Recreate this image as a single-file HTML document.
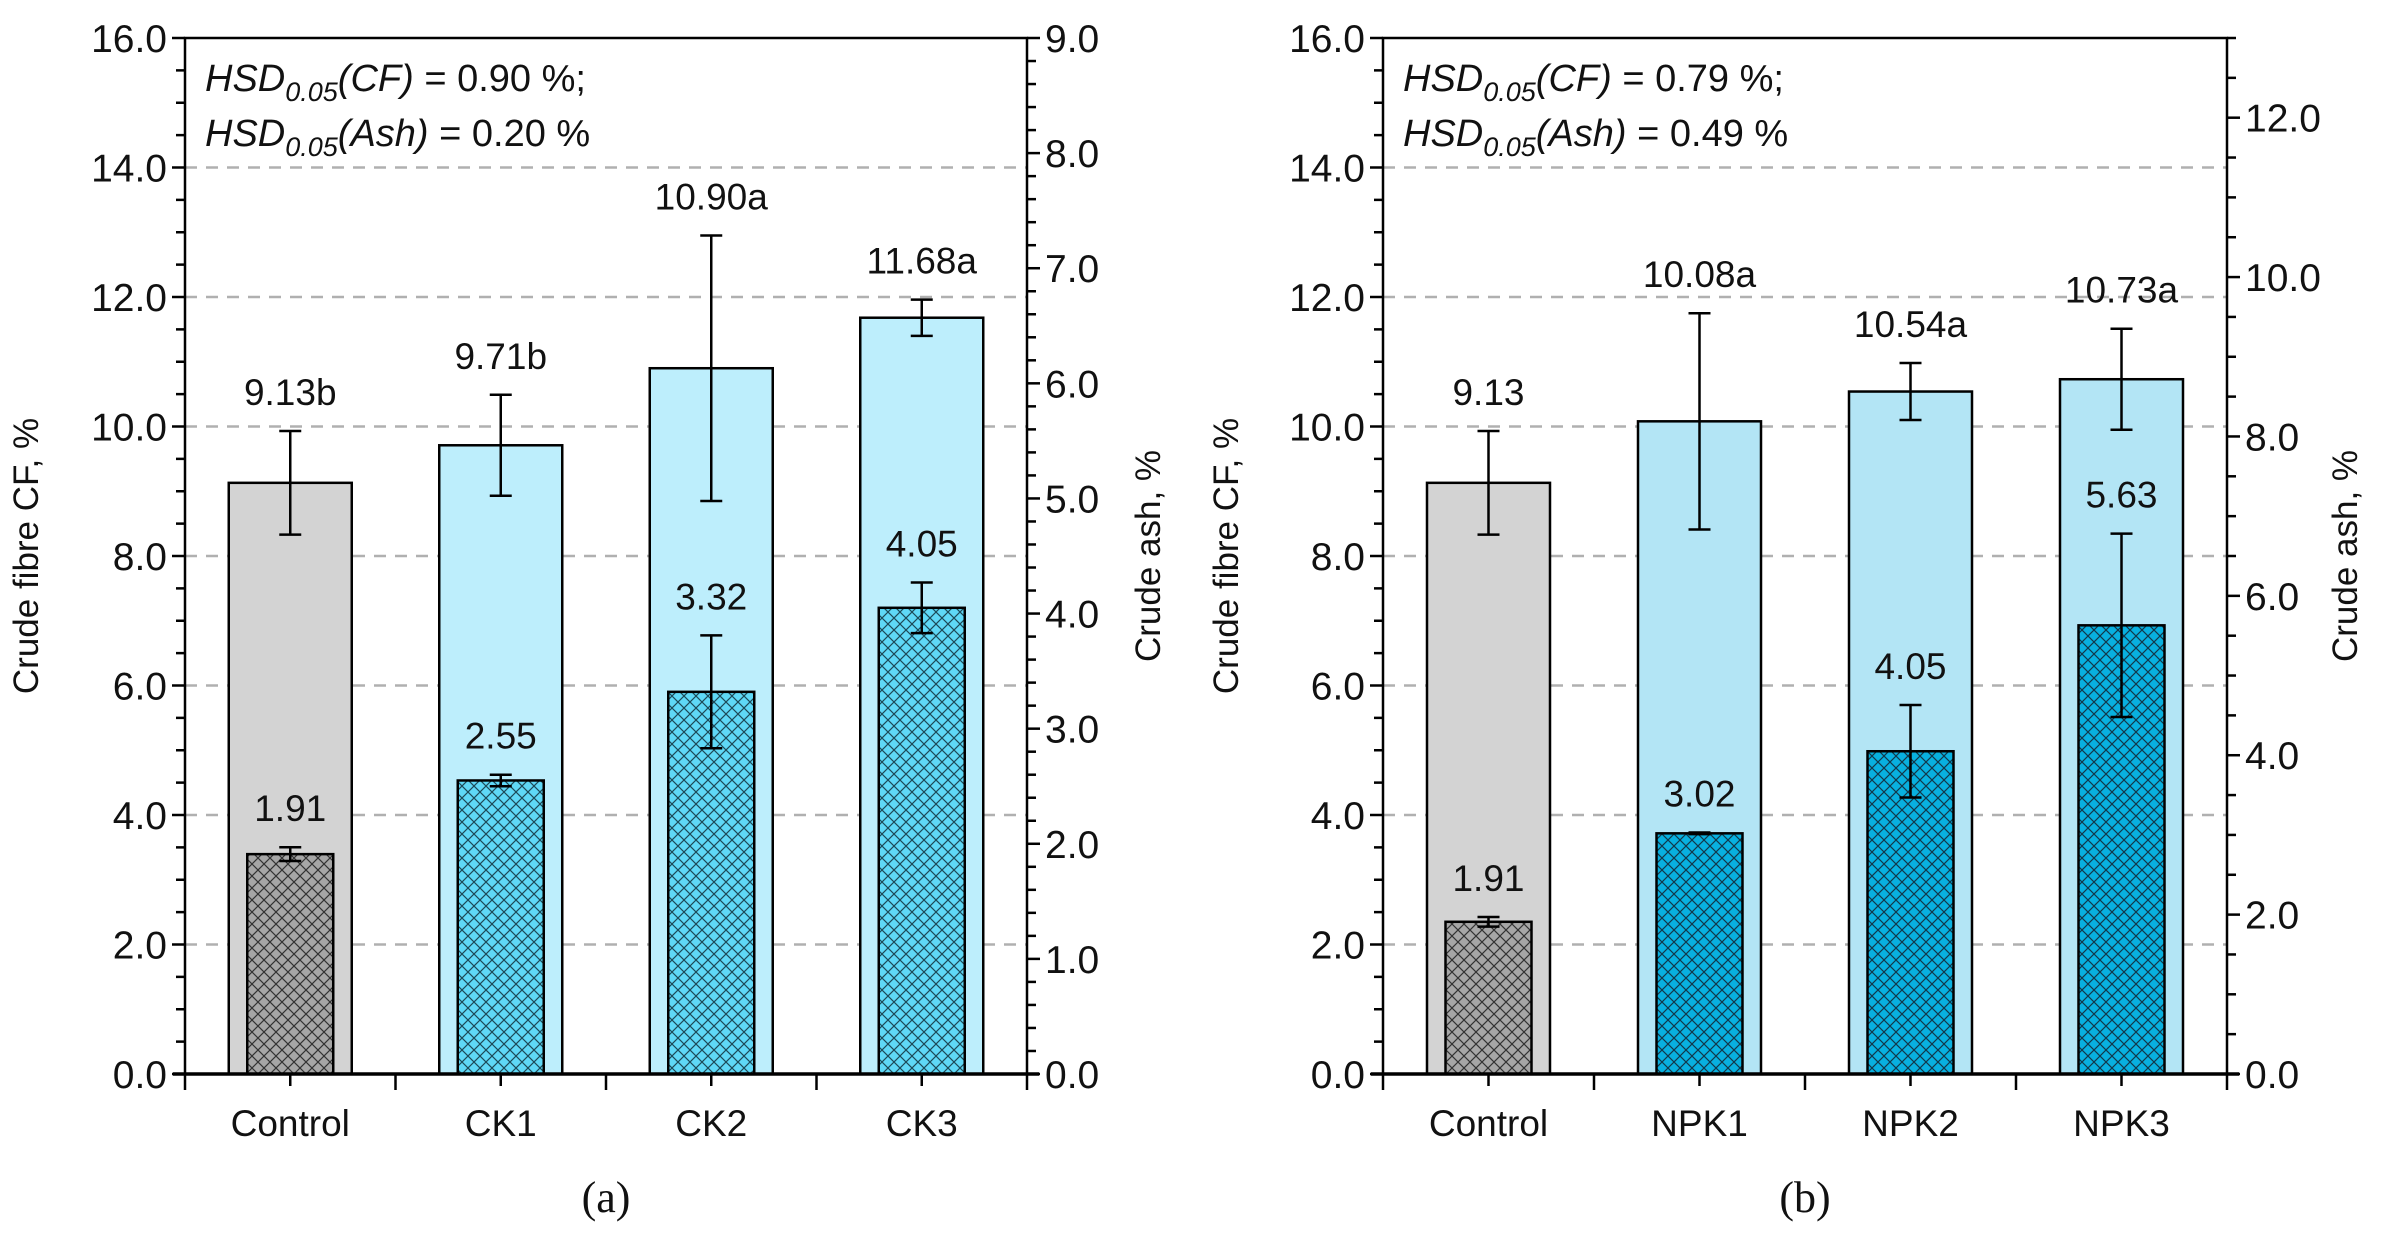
<!DOCTYPE html>
<html><head><meta charset="utf-8">
<style>
html,body{margin:0;padding:0;background:#fff;}
svg{display:block;font-family:"Liberation Sans",Arial,sans-serif;}
</style></head>
<body>
<svg id="fig" width="2390" height="1236" viewBox="0 0 2390 1236" xmlns="http://www.w3.org/2000/svg">
<defs>
<pattern id="hatchGray" patternUnits="userSpaceOnUse" width="12" height="12">
<rect width="12" height="12" fill="#a6a6a6"/>
<path d="M0,0L12,12M12,0L0,12" stroke="#333" stroke-width="1.2"/>
</pattern>
<pattern id="hatchCyan" patternUnits="userSpaceOnUse" width="12" height="12">
<rect width="12" height="12" fill="#5fd8f6"/>
<path d="M0,0L12,12M12,0L0,12" stroke="#1d4a58" stroke-width="1.2"/>
</pattern>
<pattern id="hatchBlue" patternUnits="userSpaceOnUse" width="12" height="12">
<rect width="12" height="12" fill="#08b0df"/>
<path d="M0,0L12,12M12,0L0,12" stroke="#12384a" stroke-width="1.2"/>
</pattern>
</defs>
<g id="root"></g>
</svg>
<script>
// ---- data: panel (a) ----
const catsA = ["Control","CK1","CK2","CK3"];
const cfA = [9.13, 9.71, 10.90, 11.68];
const cfErrA = [0.80, 0.78, 2.05, 0.28];
const cfLabA = ["9.13b","9.71b","10.90a","11.68a"];
const ashA = [1.91, 2.55, 3.32, 4.05];
const ashErrA = [0.06, 0.05, 0.49, 0.22];
const ashLabA = ["1.91","2.55","3.32","4.05"];
const rightTicksA = ["0.0","1.0","2.0","3.0","4.0","5.0","6.0","7.0","8.0","9.0"];
// ---- data: panel (b) ----
const catsB = ["Control","NPK1","NPK2","NPK3"];
const cfB = [9.13, 10.08, 10.54, 10.73];
const cfErrB = [0.80, 1.67, 0.44, 0.78];
const cfLabB = ["9.13","10.08a","10.54a","10.73a"];
const ashB = [1.91, 3.02, 4.05, 5.63];
const ashErrB = [0.06, 0.01, 0.58, 1.15];
const ashLabB = ["1.91","3.02","4.05","5.63"];
const rightTicksB = ["0.0","2.0","4.0","6.0","8.0","10.0","12.0"];
const leftTicks = ["0.0","2.0","4.0","6.0","8.0","10.0","12.0","14.0","16.0"];

const NS="http://www.w3.org/2000/svg";
const root=document.getElementById('root');
function mk(tag,attrs,parent,text){const e=document.createElementNS(NS,tag);for(const k in attrs)e.setAttribute(k,attrs[k]);if(text!==undefined)e.textContent=text;(parent||root).appendChild(e);return e;}

function panel(o){
  const g=mk('g',{});
  
  
  const L=o.x0,R=o.x1,T=38,B=1074;
  const yL=v=>B-(v/16)*(B-T);
  const yR=v=>B-(v/o.rmax)*(B-T);
  const cw=(R-L)/4;
  const cx=i=>L+cw*(i+0.5);
  for(let v=2;v<=14;v+=2){
    const l=mk('line',{x1:L,x2:R,y1:yL(v),y2:yL(v),stroke:'#b0b0b0','stroke-width':2.5,'stroke-dasharray':'12 9'},g);
    
    
  }
  for(let i=0;i<4;i++){
    const c=cx(i);
    const ow=123, iw=86;
    const ob=mk('rect',{x:c-ow/2,y:yL(o.cf[i]),width:ow,height:B-yL(o.cf[i]),fill:i==0?'#d3d3d3':o.outer,stroke:'#000','stroke-width':2.5},g);
    
    
    const ib=mk('rect',{x:c-iw/2,y:yR(o.ash[i]),width:iw,height:B-yR(o.ash[i]),fill:i==0?'url(#hatchGray)':o.inner,stroke:'#000','stroke-width':2.5},g);
    
    
    const eb=(y1,y2,nm)=>{
      const eg=mk('g',{stroke:'#000','stroke-width':2.5},g);
      
      
      mk('line',{x1:c,x2:c,y1:y1,y2:y2},eg);
      mk('line',{x1:c-11,x2:c+11,y1:y1,y2:y1},eg);
      mk('line',{x1:c-11,x2:c+11,y1:y2,y2:y2},eg);
    };
    eb(yL(o.cf[i]+o.cfErr[i]),yL(o.cf[i]-o.cfErr[i]),'crude-fibre-error-bar');
    eb(yR(o.ash[i]+o.ashErr[i]),yR(o.ash[i]-o.ashErr[i]),'crude-ash-error-bar');
    const t1=mk('text',{x:c,y:yL(o.cf[i]+o.cfErr[i])-26,'font-size':37,'text-anchor':'middle',fill:'#111'},g,o.cfLab[i]);
    
    
    const t2=mk('text',{x:c,y:yR(o.ash[i]+o.ashErr[i])-26,'font-size':37,'text-anchor':'middle',fill:'#111'},g,o.ashLab[i]);
    
    
    const xl=mk('text',{x:c,y:1136,'font-size':37,'text-anchor':'middle',fill:'#111'},g,o.cats[i]);
    
    
    mk('line',{x1:c,x2:c,y1:B,y2:B+12,stroke:'#000','stroke-width':2.5},g);
  }
  const fr=mk('rect',{x:L,y:T,width:R-L,height:B-T,fill:'none',stroke:'#000','stroke-width':2.5},g);
  
  
  mk('line',{x1:L-12,x2:R+12,y1:B,y2:B,stroke:'#000','stroke-width':3.5},g);
  for(let i=0;i<=4;i++) mk('line',{x1:L+cw*i,x2:L+cw*i,y1:B,y2:B+16,stroke:'#000','stroke-width':2.5},g);
  for(let v=0;v<=16.001;v+=0.5){
    const maj=Math.abs(v%2)<1e-6;
    mk('line',{x1:L-(maj?13:9),x2:L,y1:yL(v),y2:yL(v),stroke:'#000','stroke-width':2.5},g);
  }
  leftTicks.forEach((s,k)=>{
    const t=mk('text',{x:L-18,y:yL(k*2)+14,'font-size':39,'text-anchor':'end',fill:'#111'},g,s);
    
    
  });
  for(let v=0;v<=o.rmax+1e-6;v+=o.rminor){
    const maj=Math.abs((v/o.rmajor)-Math.round(v/o.rmajor))<1e-6;
    mk('line',{x1:R,x2:R+(maj?13:9),y1:yR(v),y2:yR(v),stroke:'#000','stroke-width':2.5},g);
  }
  o.rticks.forEach((s,k)=>{
    const t=mk('text',{x:R+18,y:yR(k*o.rmajor)+14,'font-size':39,'text-anchor':'start',fill:'#111'},g,s);
    
    
  });
  const yt=mk('text',{transform:`translate(${o.ltx},556) rotate(-90)`,'font-size':35,'text-anchor':'middle',fill:'#111'},g,'Crude fibre CF, %');
  
  
  const rt=mk('text',{transform:`translate(${o.rtx},556) rotate(-90)`,'font-size':35,'text-anchor':'middle',fill:'#111'},g,'Crude ash, %');
  
  
  const h=mk('text',{x:L+20,y:91,'font-size':38,fill:'#111'},g);
  
  
  h.innerHTML=`<tspan font-style="italic">HSD</tspan><tspan font-style="italic" font-size="27" dy="10">0.05</tspan><tspan font-style="italic" dy="-10">(CF)</tspan> = ${o.hsd1} %;`;
  const h2=mk('text',{x:L+20,y:146,'font-size':38,fill:'#111'},g);
  
  
  h2.innerHTML=`<tspan font-style="italic">HSD</tspan><tspan font-style="italic" font-size="27" dy="10">0.05</tspan><tspan font-style="italic" dy="-10">(Ash)</tspan> = ${o.hsd2} %`;
  const pl=mk('text',{x:(L+R)/2,y:1212,'font-size':44,'text-anchor':'middle',fill:'#111','font-family':'Liberation Serif, serif'},g,o.plabel);
  
  
}
panel({name:'panel-a',x0:185,x1:1027,rmax:9,rmajor:1,rminor:0.2,rticks:rightTicksA,cats:catsA,cf:cfA,cfErr:cfErrA,cfLab:cfLabA,ash:ashA,ashErr:ashErrA,ashLab:ashLabA,outer:'#bdeefc',inner:'url(#hatchCyan)',ltx:38,rtx:1160,hsd1:'0.90',hsd2:'0.20',plabel:'(a)'});
panel({name:'panel-b',x0:1383,x1:2227,rmax:13,rmajor:2,rminor:0.5,rticks:rightTicksB,cats:catsB,cf:cfB,cfErr:cfErrB,cfLab:cfLabB,ash:ashB,ashErr:ashErrB,ashLab:ashLabB,outer:'#b3e5f5',inner:'url(#hatchBlue)',ltx:1238,rtx:2357,hsd1:'0.79',hsd2:'0.49',plabel:'(b)'});
</script>
</body></html>
